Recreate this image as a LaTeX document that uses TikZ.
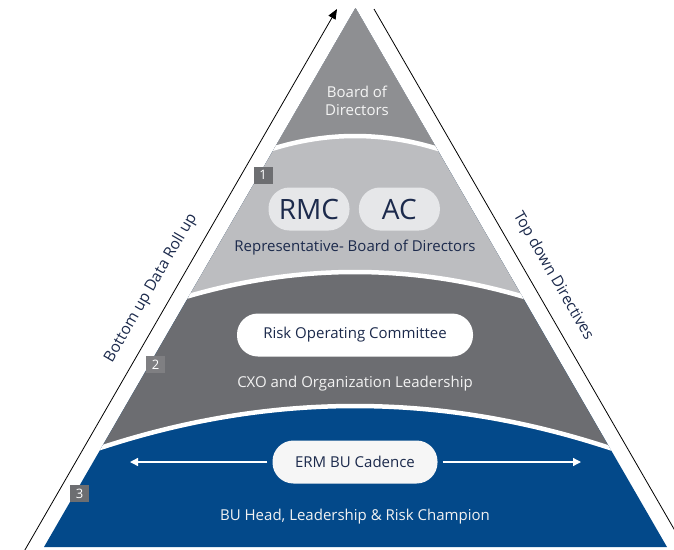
\documentclass[tikz,border=0pt]{standalone}
\usepackage{fontspec}
\setmainfont{Open Sans}
\usepackage{tikz}
\usetikzlibrary{arrows.meta,positioning,calc}

\definecolor{lvltop}{HTML}{8E8F92}
\definecolor{lvlmid}{HTML}{BCBDC0}
\definecolor{lvlrow}{HTML}{6C6D71}
\definecolor{lvlbase}{HTML}{03498A}
\definecolor{navytext}{HTML}{1C2A4C}
\definecolor{pillgray}{HTML}{E6E7E9}
\definecolor{boxgray}{HTML}{6D6E71}

\begin{document}
\begin{tikzpicture}[x=1pt, y=-1pt,
    gap/.style={draw=white, line width=4.5pt},
    pill/.style={rounded corners=21pt, minimum height=43pt, inner sep=0pt, text=navytext, font=\fontsize{15}{17}\selectfont},
    numbox/.style={fill=boxgray, text=white, minimum width=19pt, minimum height=17pt, inner sep=0pt, font=\fontsize{13}{13}\selectfont},
    layertext/.style={align=center, font=\fontsize{15}{18}\selectfont},
    sidetext/.style={text=navytext, font=\fontsize{15.5}{17}\selectfont},
    flow/.style={-{Triangle[length=10pt,width=8pt]}, line width=0.8pt},
    cadence/.style={-{Triangle[length=8pt,width=8pt]}, draw=white, line width=1.3pt}
]
\useasboundingbox (0,0) rectangle (674,549);
\clip (0,0) rectangle (674,549);

\coordinate (apex) at (355.5,8);
\coordinate (baseL) at (44,547);
\coordinate (baseR) at (667,547);

% pyramid levels
\begin{scope}
    \clip (apex) -- (baseL) -- (baseR) -- cycle;
    \fill[lvlbase] (0,0) rectangle (674,549);
    \fill[lvlrow] plot[smooth, domain=80:630] (\x,{406+6.46*((\x-355)/100)^2}) -- (630,0) -- (80,0) -- cycle;
    \fill[lvlmid] plot[smooth, domain=170:540] (\x,{272+8.7*((\x-355)/100)^2}) -- (540,0) -- (170,0) -- cycle;
    \fill[lvltop] plot[smooth, domain=260:450] (\x,{136+18.75*((\x-355)/100)^2}) -- (450,0) -- (260,0) -- cycle;
    \draw[gap] plot[smooth, domain=80:630] (\x,{406+6.46*((\x-355)/100)^2});
    \draw[gap] plot[smooth, domain=170:540] (\x,{272+8.7*((\x-355)/100)^2});
    \draw[gap] plot[smooth, domain=260:450] (\x,{136+18.75*((\x-355)/100)^2});
\end{scope}

% side arrows
\coordinate (upTop) at (337,9);
\coordinate (upBot) at (22,555);
\coordinate (dnTop) at (374,9);
\coordinate (dnBot) at (689,555);
\draw[flow] (upBot) -- (upTop);
\draw[line width=0.8pt] (dnTop) -- (dnBot);
\node[sidetext, rotate=60] (rollup) at (151,288) {Bottom up Data Roll up};
\node[sidetext, rotate=-60] (topdown) at (553,276) {Top down Directives};

% level 0
\node[layertext, text=white!92!gray] (bod) at (357,101) {Board of\\Directors};

% level 1
\node[numbox] (num1) at (263,175) {1};
\node[pill, fill=pillgray, minimum width=81pt, font=\fontsize{28}{28}\selectfont] (rmc) at (309,209) {RMC};
\node[pill, fill=pillgray, minimum width=81pt, font=\fontsize{28}{28}\selectfont, right=9pt of rmc] (ac) {AC};
\node[layertext, text=navytext] (repbod) at (355,248) {Representative- Board of Directors};

% level 2
\node[numbox, fill=boxgray!88!white] (num2) at (155.5,364.5) {2};
\node[pill, fill=white, minimum width=236pt] (roc) at (355,335) {Risk Operating Committee};
\node[layertext, text=white!90!gray] (cxo) at (355,384) {CXO and Organization Leadership};

% level 3
\node[numbox] (num3) at (79.5,493.5) {3};
\node[pill, fill=white!93!gray, minimum width=165pt] (erm) at (355,462) {ERM BU Cadence};
\coordinate (cadL) at (130,462);
\coordinate (cadR) at (581,462);
\draw[cadence] ([xshift=-5pt]erm.west) -- (cadL);
\draw[cadence] ([xshift=5pt]erm.east) -- (cadR);
\node[layertext, text=white!90!gray] (buhead) at (355,517) {BU Head, Leadership \& Risk Champion};
\end{tikzpicture}
\end{document}
